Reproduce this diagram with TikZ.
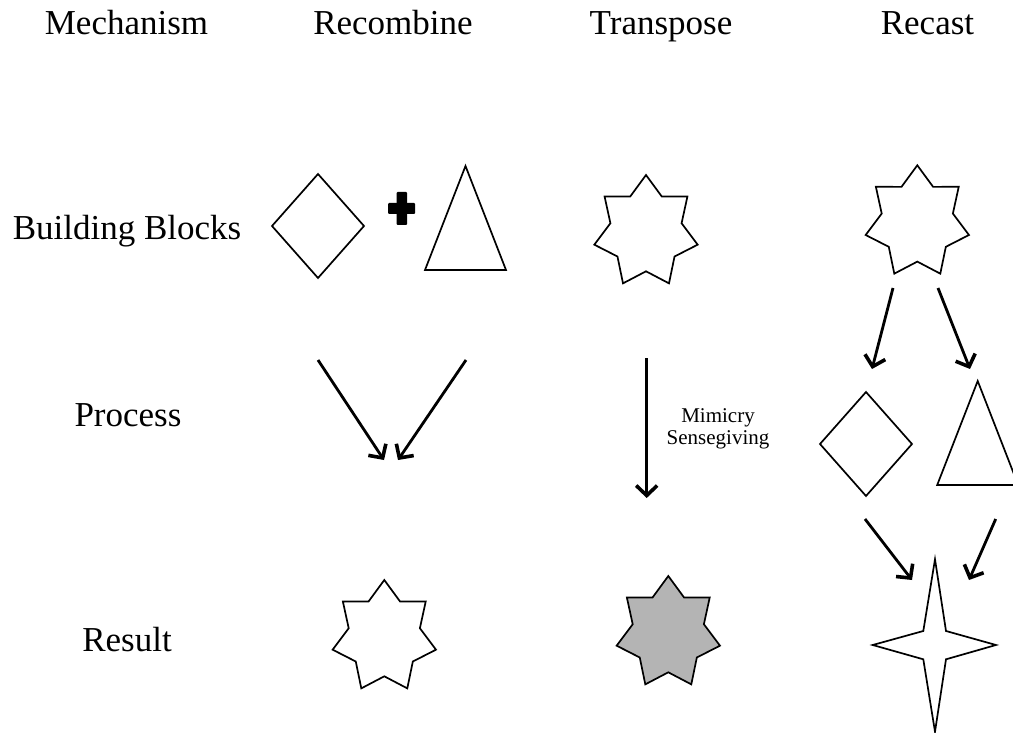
\documentclass[tikz,border=0pt]{standalone}
\usepackage{fontspec}
\setmainfont{Liberation Serif}
\usetikzlibrary{arrows.meta}
\tikzset{
  shapeline/.style={draw=black, line width=1.7pt, line join=miter},
  arr/.style={line width=2.8pt, -{Straight Barb[length=10pt,width=21pt,line width=3.6pt]}},
  big/.style={font=\fontsize{35}{40}\selectfont, anchor=base, inner sep=0pt},
  small/.style={font=\fontsize{21}{22}\selectfont, align=center, inner sep=0pt},
  sevenstar/.pic={
    \draw[shapeline, pic actions] (-90:53 and 57)
      \foreach \k in {0,...,6}{ -- ({-90+\k*360/7+180/7}:36.5 and 39.3) -- ({-90+(\k+1)*360/7}:53 and 57)} -- cycle;
  },
  diamondshape/.pic={
    \draw[shapeline, pic actions] (-46,0) -- (0,-52) -- (46,0) -- (0,52) -- cycle;
  },
  triangleshape/.pic={
    \draw[shapeline, pic actions] (0,-52) -- (40.5,52) -- (-40.5,52) -- cycle;
  }
}
\begin{document}
\begin{tikzpicture}[x=1pt,y=-1pt]
\useasboundingbox (0,0) rectangle (1013,733);
\clip (0,0) rectangle (1013,733);
% headers
\node[big] (hmech) at (126.5,35) {Mechanism};
\node[big] (hrecomb) at (393,35) {Recombine};
\node[big] (htrans) at (661,35) {Transpose};
\node[big] (hrecast) at (927.5,35) {Recast};
% row labels
\node[big] (lbb) at (127,240) {Building Blocks};
\node[big] (lproc) at (128,426) {Process};
\node[big] (lres) at (127,651) {Result};
% Recombine column
\pic at (318,226) {diamondshape};
\fill[rounded corners=1pt] (388,203) rectangle (415,214);
\fill[rounded corners=1pt] (396.5,192) rectangle (407,225);
\pic at (465.5,218) {triangleshape};
\coordinate (ra1) at (318,360);
\coordinate (ra2) at (384,460);
\coordinate (rb1) at (466,360);
\coordinate (rb2) at (398,460);
\draw[arr] (ra1) -- (ra2);
\draw[arr] (rb1) -- (rb2);
\pic at (384.3,637) {sevenstar};
% Transpose column
\pic at (646,232) {sevenstar};
\coordinate (ta1) at (646.7,358);
\coordinate (ta2) at (646.7,498);
\draw[arr] (ta1) -- (ta2);
\node[small] (mim) at (718,429) {Mimicry\\Sensegiving};
\pic[fill={rgb,255:red,180;green,180;blue,180}] at (668.3,633) {sevenstar};
% Recast column
\pic at (917.3,222.3) {sevenstar};
\coordinate (ca1) at (893,288);
\coordinate (ca2) at (872,369);
\coordinate (cb1) at (938,288);
\coordinate (cb2) at (970,369);
\draw[arr] (ca1) -- (ca2);
\draw[arr] (cb1) -- (cb2);
\pic at (866,444) {diamondshape};
\pic at (977.7,433) {triangleshape};
\coordinate (cc1) at (865,519);
\coordinate (cc2) at (912,580);
\coordinate (cd1) at (995.7,519);
\coordinate (cd2) at (969,580);
\draw[arr] (cc1) -- (cc2);
\draw[arr] (cd1) -- (cd2);
\draw[shapeline] (935,559.3) -- (946,631) -- (996,645) -- (946,659.3) -- (935,731.7)
  -- (923.3,659.3) -- (872.7,645) -- (923.3,631) -- cycle;
\end{tikzpicture}
\end{document}
